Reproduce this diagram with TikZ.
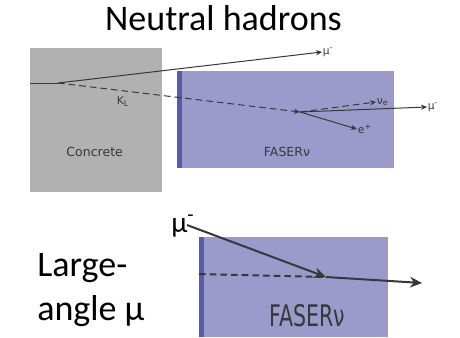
\documentclass[tikz,border=0pt]{standalone}
\usepackage{fontspec}
\setmainfont{Carlito}
\newfontfamily\labelfont{DejaVu Sans}
\usetikzlibrary{arrows.meta, positioning}
\definecolor{concretegray}{HTML}{B1B1B1}
\definecolor{faserbody}{HTML}{9B9BCB}
\definecolor{faserwall}{HTML}{5A5AAA}
\definecolor{trackgray}{HTML}{383838}
\tikzset{
  track/.style={trackgray, line width=0.75pt},
  thintip/.style={-{Stealth[length=4.5pt, width=4pt]}},
  bigtrack/.style={trackgray, line width=1.5pt},
  bigtip/.style={-{Stealth[length=9pt, width=8pt]}},
  trackdash/.style={dash pattern=on 5pt off 3pt},
  tag/.style={font=\labelfont\fontsize{8}{9}\selectfont, inner sep=0.5pt, text=trackgray},
  blocklabel/.style={font=\labelfont\fontsize{9.4}{11}\selectfont, text=trackgray, anchor=base, inner sep=0pt},
}

\begin{document}
\begin{tikzpicture}[x=0.75pt, y=-0.75pt]
    \useasboundingbox (0,0) rectangle (460,337);

    \node[font=\fontsize{27}{32}\selectfont, anchor=base] (title) at (223.5,30.7) {Neutral hadrons};

    % Concrete
    \fill[concretegray] (30,48) rectangle (162,192);
    \node[blocklabel] (concrete) at (94.7,156.7) {Concrete};

    % FASERnu (top)
    \fill[faserbody] (177,71) rectangle (394,168);
    \fill[faserwall] (177,71) rectangle (182,168);
    \node[blocklabel] (fasertop) at (287,156.7) {FASERν};

    % Tracks (top)
    \coordinate (entry) at (30,83);
    \coordinate (kdecay) at (58,83);
    \coordinate (vtx) at (300,112);
    \node[tag, anchor=west] (muA) at (322,52) {μ\textsuperscript{-}};
    \node[tag, anchor=base west] (kl) at (116,104) {K\textsubscript{L}};
    \node[tag, anchor=west] (nue) at (376,102) {ν\textsubscript{e}};
    \node[tag, anchor=west] (muB) at (427,107) {μ\textsuperscript{-}};
    \node[tag, anchor=west] (ep) at (357,129) {e\textsuperscript{+}};

    \draw[track] (entry) -- (kdecay);
    \draw[track, thintip] (kdecay) -- (muA.west);
    \draw[track, trackdash, thintip] (kdecay) -- (vtx);
    \draw[track, trackdash, thintip] (vtx) -- (nue.west);
    \draw[track, thintip] (vtx) -- (muB.west);
    \draw[track, thintip] (vtx) -- (ep.west);

    % Large-angle muon
    \node[font=\fontsize{27}{32.5}\selectfont, align=left, anchor=base west, inner sep=0pt] (largeangle) at (37,320) {Large-\\angle μ};

    % FASERnu (bottom)
    \fill[faserbody] (199,237) rectangle (388,337);
    \fill[faserwall] (199,237) rectangle (204,337);
    \node[font=\labelfont\fontsize{22.3}{26}\selectfont, text=trackgray, anchor=base, inner sep=0pt] (faserbottom) at (307.5,326.7) {\scalebox{0.69}[1]{FASERν}};

    \node[font=\fontsize{22}{26}\selectfont, anchor=base west, inner sep=0pt] (muC) at (171,232) {μ\textsuperscript{-}};
    \coordinate (mustart) at (187,225);
    \coordinate (wallhit) at (199,274);
    \coordinate (bvtx) at (326,277);
    \coordinate (muend) at (422,283);

    \draw[bigtrack, bigtip] (mustart) -- (bvtx);
    \draw[bigtrack, trackdash] (wallhit) -- (bvtx);
    \draw[bigtrack, bigtip] (bvtx) -- (muend);
\end{tikzpicture}
\end{document}
